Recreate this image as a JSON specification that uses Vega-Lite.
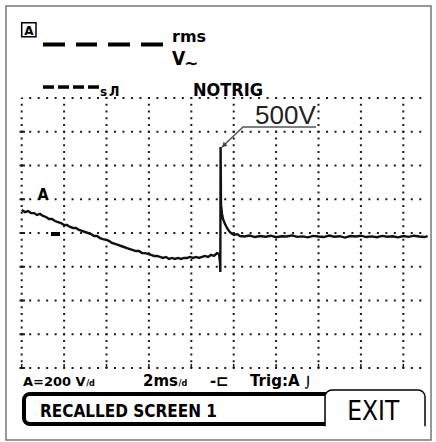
{
  "$schema": "https://vega.github.io/schema/vega-lite/v6.json",
  "width": 436,
  "height": 442,
  "padding": 0,
  "autosize": {"type": "none"},
  "background": "white",
  "config": {"view": {"stroke": null}},
  "encoding": {
    "x": {"field": "t", "type": "quantitative", "scale": {"domain": [-1.0236, 19.542], "nice": false, "zero": false}, "axis": null},
    "y": {"field": "v", "type": "quantitative", "scale": {"domain": [-1238.5, 1380.74], "nice": false, "zero": false}, "axis": null}
  },
  "layer": [
    {
      "data": {"values": [
        {"t": 0, "t2": 19.02, "v": -800}, {"t": 0, "t2": 19.02, "v": -600}, {"t": 0, "t2": 19.02, "v": -400},
        {"t": 0, "t2": 19.02, "v": -200}, {"t": 0, "t2": 19.02, "v": 0}, {"t": 0, "t2": 19.02, "v": 200},
        {"t": 0, "t2": 19.02, "v": 400}, {"t": 0, "t2": 19.02, "v": 600}, {"t": 0, "t2": 19.02, "v": 800}
      ]},
      "mark": {"type": "rule", "color": "#1a1a1a", "strokeWidth": 2, "strokeDash": [2, 6.48], "strokeDashOffset": 1},
      "encoding": {"x2": {"field": "t2"}}
    },
    {
      "data": {"values": [
        {"t": 0, "v": 800, "v2": -800}, {"t": 2, "v": 800, "v2": -800}, {"t": 4, "v": 800, "v2": -800},
        {"t": 6, "v": 800, "v2": -800}, {"t": 8, "v": 800, "v2": -800}, {"t": 10, "v": 800, "v2": -800},
        {"t": 12, "v": 800, "v2": -800}, {"t": 14, "v": 800, "v2": -800}, {"t": 16, "v": 800, "v2": -800},
        {"t": 18, "v": 800, "v2": -800}
      ]},
      "mark": {"type": "rule", "color": "#1a1a1a", "strokeWidth": 2, "strokeDash": [2, 4.75], "strokeDashOffset": 1},
      "encoding": {"y2": {"field": "v2"}}
    },
    {
      "data": {"values": [
        {"t": -0.104, "t2": 0.156, "v": -800}, {"t": -0.104, "t2": 0.156, "v": -600}, {"t": -0.104, "t2": 0.156, "v": -400},
        {"t": -0.104, "t2": 0.156, "v": -200}, {"t": -0.104, "t2": 0.156, "v": 0}, {"t": -0.104, "t2": 0.156, "v": 200},
        {"t": -0.104, "t2": 0.156, "v": 400}, {"t": -0.104, "t2": 0.156, "v": 600}
      ]},
      "mark": {"type": "rule", "color": "#1a1a1a", "strokeWidth": 2},
      "encoding": {"x2": {"field": "t2"}}
    },
    {
      "data": {"values": [
        {"t": 0, "v": -800, "v2": -776}, {"t": 2, "v": -800, "v2": -776}, {"t": 4, "v": -800, "v2": -776},
        {"t": 6, "v": -800, "v2": -776}, {"t": 8, "v": -800, "v2": -776}, {"t": 10, "v": -800, "v2": -776},
        {"t": 12, "v": -800, "v2": -776}, {"t": 14, "v": -800, "v2": -776}, {"t": 16, "v": -800, "v2": -776},
        {"t": 18, "v": -800, "v2": -776}
      ]},
      "mark": {"type": "rule", "color": "#1a1a1a", "strokeWidth": 1.5},
      "encoding": {"y2": {"field": "v2"}}
    },
    {
      "data": {"values": [
        {"t": 0, "v": 136}, {"t": 0.156, "v": 124}, {"t": 0.297, "v": 130}, {"t": 0.439, "v": 118}, {"t": 0.58, "v": 118},
        {"t": 0.722, "v": 107}, {"t": 0.863, "v": 113}, {"t": 1.005, "v": 101}, {"t": 1.146, "v": 95}, {"t": 1.288, "v": 83},
        {"t": 1.429, "v": 83}, {"t": 1.571, "v": 71}, {"t": 1.712, "v": 65}, {"t": 1.854, "v": 59}, {"t": 1.995, "v": 47},
        {"t": 2.137, "v": 47}, {"t": 2.278, "v": 36}, {"t": 2.42, "v": 30}, {"t": 2.561, "v": 30}, {"t": 2.703, "v": 18},
        {"t": 2.844, "v": 12}, {"t": 2.986, "v": 6}, {"t": 3.127, "v": 0}, {"t": 3.269, "v": -6}, {"t": 3.41, "v": -18},
        {"t": 3.552, "v": -18}, {"t": 3.693, "v": -30}, {"t": 3.835, "v": -36}, {"t": 3.976, "v": -41}, {"t": 4.118, "v": -47},
        {"t": 4.259, "v": -59}, {"t": 4.401, "v": -65}, {"t": 4.542, "v": -71}, {"t": 4.684, "v": -77}, {"t": 4.825, "v": -83},
        {"t": 4.967, "v": -89}, {"t": 5.108, "v": -95}, {"t": 5.25, "v": -101}, {"t": 5.392, "v": -107}, {"t": 5.533, "v": -107},
        {"t": 5.675, "v": -119}, {"t": 5.816, "v": -119}, {"t": 5.958, "v": -124}, {"t": 6.099, "v": -130}, {"t": 6.241, "v": -136},
        {"t": 6.382, "v": -136}, {"t": 6.524, "v": -142}, {"t": 6.665, "v": -148}, {"t": 6.807, "v": -142}, {"t": 6.948, "v": -154},
        {"t": 7.09, "v": -148}, {"t": 7.231, "v": -154}, {"t": 7.373, "v": -148}, {"t": 7.514, "v": -154}, {"t": 7.656, "v": -148},
        {"t": 7.797, "v": -148}, {"t": 7.939, "v": -142}, {"t": 8.08, "v": -148}, {"t": 8.222, "v": -142}, {"t": 8.363, "v": -148},
        {"t": 8.505, "v": -142}, {"t": 8.646, "v": -136}, {"t": 8.788, "v": -142}, {"t": 8.929, "v": -130}, {"t": 9.071, "v": -136},
        {"t": 9.212, "v": -119}, {"t": 9.307, "v": -124}, {"t": 9.354, "v": -172}, {"t": 9.368, "v": -231}, {"t": 9.382, "v": 510},
        {"t": 9.401, "v": 166}, {"t": 9.448, "v": 113}, {"t": 9.495, "v": 83}, {"t": 9.59, "v": 53}, {"t": 9.684, "v": 30},
        {"t": 9.778, "v": 12}, {"t": 9.873, "v": 0}, {"t": 10.014, "v": -12}, {"t": 10.156, "v": -6}, {"t": 10.297, "v": -18},
        {"t": 10.5, "v": -21}, {"t": 10.75, "v": -15}, {"t": 11, "v": -24}, {"t": 11.25, "v": -18}, {"t": 11.5, "v": -22},
        {"t": 11.75, "v": -16}, {"t": 12, "v": -25}, {"t": 12.25, "v": -19}, {"t": 12.5, "v": -21}, {"t": 12.75, "v": -14},
        {"t": 13, "v": -23}, {"t": 13.25, "v": -20}, {"t": 13.5, "v": -26}, {"t": 13.75, "v": -17}, {"t": 14, "v": -21},
        {"t": 14.25, "v": -24}, {"t": 14.5, "v": -15}, {"t": 14.75, "v": -22}, {"t": 15, "v": -19}, {"t": 15.25, "v": -27},
        {"t": 15.5, "v": -18}, {"t": 15.75, "v": -21}, {"t": 16, "v": -16}, {"t": 16.25, "v": -24}, {"t": 16.5, "v": -20},
        {"t": 16.75, "v": -25}, {"t": 17, "v": -17}, {"t": 17.25, "v": -22}, {"t": 17.5, "v": -19}, {"t": 17.75, "v": -26},
        {"t": 18, "v": -18}, {"t": 18.25, "v": -23}, {"t": 18.5, "v": -16}, {"t": 18.75, "v": -21}, {"t": 19, "v": -24},
        {"t": 19.15, "v": -19}
      ]},
      "mark": {"type": "line", "color": "#111", "strokeWidth": 2.4, "interpolate": "linear"}
    },
    {
      "data": {"values": [{"t": 1.382, "t2": 1.807, "v": -5.9}]},
      "mark": {"type": "rule", "color": "#000", "strokeWidth": 4},
      "encoding": {"x2": {"field": "t2"}}
    },
    {
      "data": {"values": [
        {"t": 1.005, "t2": 2.042, "v": 1117}, {"t": 2.561, "t2": 3.552, "v": 1117},
        {"t": 4.071, "t2": 5.108, "v": 1117}, {"t": 5.627, "t2": 6.665, "v": 1117}
      ]},
      "mark": {"type": "rule", "color": "#000", "strokeWidth": 4},
      "encoding": {"x2": {"field": "t2"}}
    },
    {
      "data": {"values": [
        {"t": 1.005, "t2": 1.524, "v": 865}, {"t": 1.712, "t2": 2.231, "v": 865},
        {"t": 2.42, "t2": 2.939, "v": 865}, {"t": 3.127, "t2": 3.646, "v": 865}
      ]},
      "mark": {"type": "rule", "color": "#000", "strokeWidth": 3.5},
      "encoding": {"x2": {"field": "t2"}}
    },
    {
      "data": {"values": [{"t": 0, "t2": 0.675, "v": 1246, "v2": 1163}]},
      "mark": {"type": "rect", "fill": "white", "stroke": "#000", "strokeWidth": 1.5},
      "encoding": {"x2": {"field": "t2"}, "y2": {"field": "v2"}}
    },
    {
      "data": {"values": [{"t": 0.344, "v": 1173, "label": "A"}]},
      "mark": {"type": "text", "font": "DejaVu Sans", "fontWeight": "bold", "fontSize": 12, "align": "center", "baseline": "alphabetic", "color": "#000"},
      "encoding": {"text": {"field": "label"}}
    },
    {
      "data": {"values": [{"t": 7.09, "v": 1132, "label": "rms"}]},
      "mark": {"type": "text", "font": "DejaVu Sans", "fontWeight": "bold", "fontSize": 16, "align": "left", "baseline": "alphabetic", "color": "#000"},
      "encoding": {"text": {"field": "label"}}
    },
    {
      "data": {"values": [{"t": 7.09, "v": 996, "label": "V"}]},
      "mark": {"type": "text", "font": "DejaVu Sans Condensed", "fontWeight": "bold", "fontSize": 19, "align": "left", "baseline": "alphabetic", "color": "#000"},
      "encoding": {"text": {"field": "label"}}
    },
    {
      "data": {"values": [{"t": 7.656, "v": 972, "label": "∼"}]},
      "mark": {"type": "text", "font": "DejaVu Sans", "fontWeight": "bold", "fontSize": 17, "align": "left", "baseline": "alphabetic", "color": "#000"},
      "encoding": {"text": {"field": "label"}}
    },
    {
      "data": {"values": [{"t": 3.693, "v": 812, "label": "s"}]},
      "mark": {"type": "text", "font": "DejaVu Sans", "fontWeight": "bold", "fontSize": 12, "align": "left", "baseline": "alphabetic", "color": "#000"},
      "encoding": {"text": {"field": "label"}}
    },
    {
      "data": {"values": [{"t": 4.12, "v": 812, "label": "Л"}]},
      "mark": {"type": "text", "font": "DejaVu Sans Condensed", "fontWeight": "bold", "fontSize": 14, "align": "left", "baseline": "alphabetic", "color": "#000"},
      "encoding": {"text": {"field": "label"}}
    },
    {
      "data": {"values": [{"t": 8.08, "v": 812, "label": "NOTRIG"}]},
      "mark": {"type": "text", "font": "DejaVu Sans Condensed", "fontWeight": "bold", "fontSize": 18, "align": "left", "baseline": "alphabetic", "color": "#000"},
      "encoding": {"text": {"field": "label"}}
    },
    {
      "data": {"values": [{"t": 1.005, "v": 196, "label": "A"}]},
      "mark": {"type": "text", "font": "DejaVu Sans Condensed", "fontWeight": "bold", "fontSize": 16, "align": "center", "baseline": "alphabetic", "color": "#000"},
      "encoding": {"text": {"field": "label"}}
    },
    {
      "data": {"values": [{"t": 10.297, "t2": 13.882, "v": 788, "v2": 634}]},
      "mark": {"type": "rect", "fill": "white", "stroke": null},
      "encoding": {"x2": {"field": "t2"}, "y2": {"field": "v2"}}
    },
    {
      "data": {"values": [{"t": 11.005, "v": 646, "label": "500V"}]},
      "mark": {"type": "text", "font": "Liberation Sans", "fontSize": 26, "align": "left", "baseline": "alphabetic", "color": "#222"},
      "encoding": {"text": {"field": "label"}}
    },
    {
      "data": {"values": [
        {"i": 0, "t": 13.882, "v": 628}, {"i": 1, "t": 10.439, "v": 628}, {"i": 2, "t": 9.448, "v": 510}
      ]},
      "mark": {"type": "line", "color": "#555", "strokeWidth": 1.5},
      "encoding": {"order": {"field": "i", "type": "quantitative"}}
    },
    {
      "data": {"values": [{"t": 9.56, "v": 522}]},
      "mark": {"type": "point", "shape": "triangle", "filled": true, "color": "#444", "size": 30, "angle": 225, "opacity": 1}
    },
    {
      "data": {"values": [{"t": 0.108, "t2": 14.542, "v": -954, "v2": -1132}]},
      "mark": {"type": "rect", "fill": "white", "stroke": "#000", "strokeWidth": 4, "cornerRadiusTopLeft": 6, "cornerRadiusBottomLeft": 6},
      "encoding": {"x2": {"field": "t2"}, "y2": {"field": "v2"}}
    },
    {
      "data": {"values": [{"t": 14.307, "t2": 19.024, "v": -930, "v2": -1156}]},
      "mark": {"type": "rect", "fill": "white", "stroke": "#000", "strokeWidth": 1.5, "cornerRadiusTopLeft": 7, "cornerRadiusTopRight": 7},
      "encoding": {"x2": {"field": "t2"}, "y2": {"field": "v2"}}
    },
    {
      "data": {"values": [{"t": 14.26, "t2": 19.094, "v": -1145, "v2": -1180}]},
      "mark": {"type": "rect", "fill": "white", "stroke": null},
      "encoding": {"x2": {"field": "t2"}, "y2": {"field": "v2"}}
    },
    {
      "data": {"values": [{"t": 0.863, "v": -1090, "label": "RECALLED SCREEN 1"}]},
      "mark": {"type": "text", "font": "DejaVu Sans Condensed", "fontWeight": "bold", "fontSize": 17, "align": "left", "baseline": "alphabetic", "color": "#000"},
      "encoding": {"text": {"field": "label"}}
    },
    {
      "data": {"values": [{"t": 16.58, "v": -1108, "label": "EXIT"}]},
      "mark": {"type": "text", "font": "DejaVu Sans Condensed", "fontSize": 26, "align": "center", "baseline": "alphabetic", "color": "#000"},
      "encoding": {"text": {"field": "label"}}
    },
    {
      "data": {"values": [
        {"t": 0.061, "v": -907, "label": "A=200 V"}
      ]},
      "mark": {"type": "text", "font": "DejaVu Sans", "fontWeight": "bold", "fontSize": 13, "align": "left", "baseline": "alphabetic", "color": "#000"},
      "encoding": {"text": {"field": "label"}}
    },
    {
      "data": {"values": [
        {"t": 5.72, "v": -907, "label": "2ms"},
        {"t": 8.882, "v": -907, "label": "-⊏"},
        {"t": 10.77, "v": -907, "label": "Trig:A"}
      ]},
      "mark": {"type": "text", "font": "DejaVu Sans", "fontWeight": "bold", "fontSize": 15, "align": "left", "baseline": "alphabetic", "color": "#000"},
      "encoding": {"text": {"field": "label"}}
    },
    {
      "data": {"values": [
        {"t": 13.35, "v": -907, "label": "⌡"}
      ]},
      "mark": {"type": "text", "font": "DejaVu Sans", "fontWeight": "bold", "fontSize": 11, "align": "left", "baseline": "alphabetic", "color": "#000"},
      "encoding": {"text": {"field": "label"}}
    },
    {
      "data": {"values": [
        {"t": 3.04, "v": -907, "label": "/d"},
        {"t": 7.4, "v": -907, "label": "/d"}
      ]},
      "mark": {"type": "text", "font": "DejaVu Sans Condensed", "fontWeight": "bold", "fontSize": 9, "align": "left", "baseline": "alphabetic", "color": "#000"},
      "encoding": {"text": {"field": "label"}}
    },
    {
      "data": {"values": [{"t": -0.741, "t2": 19.307, "v": 1345, "v2": -1227}]},
      "mark": {"type": "rect", "fill": null, "stroke": "#777", "strokeWidth": 1.5},
      "encoding": {"x2": {"field": "t2"}, "y2": {"field": "v2"}}
    }
  ]
}
